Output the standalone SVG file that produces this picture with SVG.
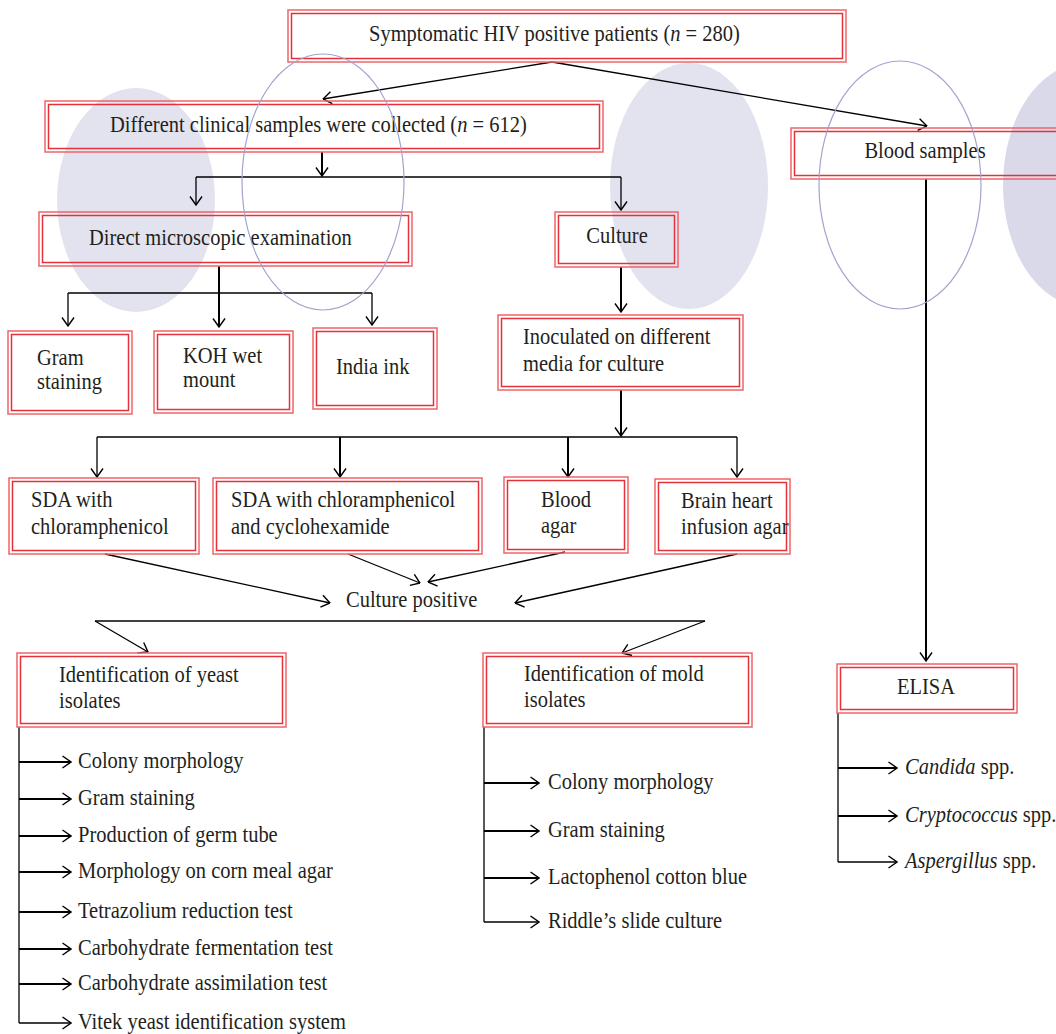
<svg xmlns="http://www.w3.org/2000/svg" width="1056" height="1034" viewBox="0 0 1056 1034">
<style>
text{font-family:"Liberation Serif","Times New Roman",serif;font-size:20.5px;fill:#231f20}
.o{fill:none;stroke:#f0646a;stroke-width:1.5}
.i{fill:none;stroke:#e5323a;stroke-width:1.5}
.c{fill:none;stroke:#000;stroke-width:1.3}
.t{stroke-width:2}
.bg{fill:#e3e3f0}
.bg2{fill:#d9d9ea}
.ol{fill:none;stroke:#a3a3cf;stroke-width:1.2}
</style>
<defs>
<marker id="ah" viewBox="0 0 10 14" refX="9.5" refY="7" markerWidth="10" markerHeight="14" orient="auto" markerUnits="userSpaceOnUse">
<path d="M1,1 L9.5,7 L1,13" fill="none" stroke="#000" stroke-width="1.4"/>
</marker>
</defs>
<rect width="1056" height="1034" fill="#fff"/>
<g id="backdrop">
<ellipse class="bg" cx="136" cy="200" rx="79" ry="112"/>
<ellipse class="bg" cx="689" cy="186" rx="79" ry="123"/>
<ellipse class="bg2" cx="1083" cy="185" rx="80" ry="121"/>
</g>
<g id="connectors" class="c">
<path class="c" marker-end="url(#ah)" d="M552,62 L323,99"/>
<path class="c" marker-end="url(#ah)" d="M552,62 L927,126"/>
<path class="c t" marker-end="url(#ah)" d="M322,152 L322,176"/>
<path class="c" d="M196,177 L621,177"/>
<path class="c" marker-end="url(#ah)" d="M196,177 L196,205"/>
<path class="c" marker-end="url(#ah)" d="M621,177 L621,210"/>
<path class="c t" marker-end="url(#ah)" d="M219,266 L219,327"/>
<path class="c" d="M68,293 L372,293"/>
<path class="c" marker-end="url(#ah)" d="M68,293 L68,326"/>
<path class="c" marker-end="url(#ah)" d="M372,293 L372,325"/>
<path class="c t" marker-end="url(#ah)" d="M621,267 L621,312"/>
<path class="c t" marker-end="url(#ah)" d="M621,390 L621,436"/>
<path class="c" d="M97,437 L737,437"/>
<path class="c" marker-end="url(#ah)" d="M97,437 L97,477"/>
<path class="c t" marker-end="url(#ah)" d="M340,437 L340,477"/>
<path class="c t" marker-end="url(#ah)" d="M568,437 L568,477"/>
<path class="c" marker-end="url(#ah)" d="M737,437 L737,477"/>
<path class="c" marker-end="url(#ah)" d="M105,554 L330,603"/>
<path class="c" marker-end="url(#ah)" d="M348,554 L420,583"/>
<path class="c" marker-end="url(#ah)" d="M565,552 L428,582"/>
<path class="c" marker-end="url(#ah)" d="M737,554 L515,603"/>
<path class="c" d="M95,621 L705,621"/>
<path class="c" marker-end="url(#ah)" d="M95,621 L148,652"/>
<path class="c" marker-end="url(#ah)" d="M705,621 L622,653"/>
<path class="c t" marker-end="url(#ah)" d="M926,179 L926,661"/>
<path class="c" d="M19,727 L19,1023"/>
<path class="c t" marker-end="url(#ah)" d="M19,762 L71,762"/>
<path class="c t" marker-end="url(#ah)" d="M19,799 L71,799"/>
<path class="c t" marker-end="url(#ah)" d="M19,836 L71,836"/>
<path class="c t" marker-end="url(#ah)" d="M19,872 L71,872"/>
<path class="c t" marker-end="url(#ah)" d="M19,912 L71,912"/>
<path class="c t" marker-end="url(#ah)" d="M19,949 L71,949"/>
<path class="c t" marker-end="url(#ah)" d="M19,984 L71,984"/>
<path class="c" marker-end="url(#ah)" d="M19,1023 L71,1023"/>
<path class="c" d="M484,727 L484,922"/>
<path class="c t" marker-end="url(#ah)" d="M484,783 L539,783"/>
<path class="c t" marker-end="url(#ah)" d="M484,831 L539,831"/>
<path class="c t" marker-end="url(#ah)" d="M484,878 L539,878"/>
<path class="c" marker-end="url(#ah)" d="M484,922 L539,922"/>
<path class="c" d="M838,713 L838,862"/>
<path class="c t" marker-end="url(#ah)" d="M838,768 L897,768"/>
<path class="c t" marker-end="url(#ah)" d="M838,816 L897,816"/>
<path class="c" marker-end="url(#ah)" d="M838,862 L897,862"/>
</g>
<g id="n-top">
<rect class="o" x="288" y="10" width="558" height="52"/><rect class="i" x="291.5" y="13.5" width="551" height="45"/>
<text transform="matrix(1 0 0 1.15 369 41)">Symptomatic HIV positive patients (<tspan font-style="italic">n</tspan> = 280)</text>
</g>
<g id="n-samples">
<rect class="o" x="45" y="101" width="558" height="51"/><rect class="i" x="48.5" y="104.5" width="551" height="44"/>
<text transform="matrix(1 0 0 1.15 110 132)">Different clinical samples were collected (<tspan font-style="italic">n</tspan> = 612)</text>
</g>
<g id="n-blood">
<rect class="o" x="791" y="128" width="272" height="51"/><rect class="i" x="794.5" y="131.5" width="265" height="44"/>
<text transform="matrix(1 0 0 1.15 925 158)" text-anchor="middle">Blood samples</text>
</g>
<g id="n-direct">
<rect class="o" x="39" y="212" width="373" height="54"/><rect class="i" x="42.5" y="215.5" width="366" height="47"/>
<text transform="matrix(1 0 0 1.15 89 245)">Direct microscopic examination</text>
</g>
<g id="n-culture">
<rect class="o" x="555" y="212" width="123" height="55"/><rect class="i" x="558.5" y="215.5" width="116" height="48"/>
<text transform="matrix(1 0 0 1.15 617 243)" text-anchor="middle">Culture</text>
</g>
<g id="n-gram">
<rect class="o" x="8" y="331" width="124" height="83"/><rect class="i" x="11.5" y="334.5" width="117" height="76"/>
<text transform="matrix(1 0 0 1.15 37 365)">Gram</text><text transform="matrix(1 0 0 1.15 37 389)">staining</text>
</g>
<g id="n-koh">
<rect class="o" x="154" y="331" width="139" height="82"/><rect class="i" x="157.5" y="334.5" width="132" height="75"/>
<text transform="matrix(1 0 0 1.15 183 363)">KOH wet</text><text transform="matrix(1 0 0 1.15 183 387)">mount</text>
</g>
<g id="n-india">
<rect class="o" x="313" y="328" width="124" height="81"/><rect class="i" x="316.5" y="331.5" width="117" height="74"/>
<text transform="matrix(1 0 0 1.15 336 374)">India ink</text>
</g>
<g id="n-inoc">
<rect class="o" x="498" y="315" width="245" height="75"/><rect class="i" x="501.5" y="318.5" width="238" height="68"/>
<text transform="matrix(1 0 0 1.15 523 344)">Inoculated on different</text><text transform="matrix(1 0 0 1.15 523 371)">media for culture</text>
</g>
<g id="n-sda1">
<rect class="o" x="9" y="478" width="190" height="76"/><rect class="i" x="12.5" y="481.5" width="183" height="69"/>
<text transform="matrix(1 0 0 1.15 31 507)">SDA with</text><text transform="matrix(1 0 0 1.15 31 534)">chloramphenicol</text>
</g>
<g id="n-sda2">
<rect class="o" x="213" y="478" width="269" height="76"/><rect class="i" x="216.5" y="481.5" width="262" height="69"/>
<text transform="matrix(1 0 0 1.15 231 507)">SDA with chloramphenicol</text><text transform="matrix(1 0 0 1.15 231 534)">and cyclohexamide</text>
</g>
<g id="n-bloodagar">
<rect class="o" x="504" y="477" width="124" height="76"/><rect class="i" x="507.5" y="480.5" width="117" height="69"/>
<text transform="matrix(1 0 0 1.15 541 507)">Blood</text><text transform="matrix(1 0 0 1.15 541 533)">agar</text>
</g>
<g id="n-bhi">
<rect class="o" x="655" y="479" width="135" height="75"/><rect class="i" x="658.5" y="482.5" width="128" height="68"/>
<text transform="matrix(1 0 0 1.15 681 508)">Brain heart</text><text transform="matrix(1 0 0 1.15 681 534)">infusion agar</text>
</g>
<g id="n-positive">
<text transform="matrix(1 0 0 1.15 346 607)">Culture positive</text>
</g>
<g id="n-yeast">
<rect class="o" x="17" y="653" width="269" height="74"/><rect class="i" x="20.5" y="656.5" width="262" height="67"/>
<text transform="matrix(1 0 0 1.15 59 682)">Identification of yeast</text><text transform="matrix(1 0 0 1.15 59 708)">isolates</text>
</g>
<g id="n-mold">
<rect class="o" x="483" y="653" width="269" height="74"/><rect class="i" x="486.5" y="656.5" width="262" height="67"/>
<text transform="matrix(1 0 0 1.15 524 681)">Identification of mold</text><text transform="matrix(1 0 0 1.15 524 707)">isolates</text>
</g>
<g id="n-elisa">
<rect class="o" x="837" y="664" width="180" height="49"/><rect class="i" x="840.5" y="667.5" width="173" height="42"/>
<text transform="matrix(1 0 0 1.15 926 694)" text-anchor="middle">ELISA</text>
</g>
<g id="yeast-list">
<text transform="matrix(1 0 0 1.15 78 768)">Colony morphology</text>
<text transform="matrix(1 0 0 1.15 78 805)">Gram staining</text>
<text transform="matrix(1 0 0 1.15 78 842)">Production of germ tube</text>
<text transform="matrix(1 0 0 1.15 78 878)">Morphology on corn meal agar</text>
<text transform="matrix(1 0 0 1.15 78 918)">Tetrazolium reduction test</text>
<text transform="matrix(1 0 0 1.15 78 955)">Carbohydrate fermentation test</text>
<text transform="matrix(1 0 0 1.15 78 990)">Carbohydrate assimilation test</text>
<text transform="matrix(1 0 0 1.15 78 1029)">Vitek yeast identification system</text>
</g>
<g id="mold-list">
<text transform="matrix(1 0 0 1.15 548 789)">Colony morphology</text>
<text transform="matrix(1 0 0 1.15 548 837)">Gram staining</text>
<text transform="matrix(1 0 0 1.15 548 884)">Lactophenol cotton blue</text>
<text transform="matrix(1 0 0 1.15 548 928)">Riddle’s slide culture</text>
</g>
<g id="elisa-list">
<text transform="matrix(1 0 0 1.15 905 774)"><tspan font-style="italic">Candida</tspan> spp.</text>
<text transform="matrix(1 0 0 1.15 905 822)"><tspan font-style="italic">Cryptococcus</tspan> spp.</text>
<text transform="matrix(1 0 0 1.15 905 868)"><tspan font-style="italic">Aspergillus</tspan> spp.</text>
</g>
<g id="overlay">
<ellipse class="ol" cx="323" cy="182" rx="81" ry="128"/>
<ellipse class="ol" cx="900" cy="185" rx="81" ry="124"/>
</g>
</svg>
